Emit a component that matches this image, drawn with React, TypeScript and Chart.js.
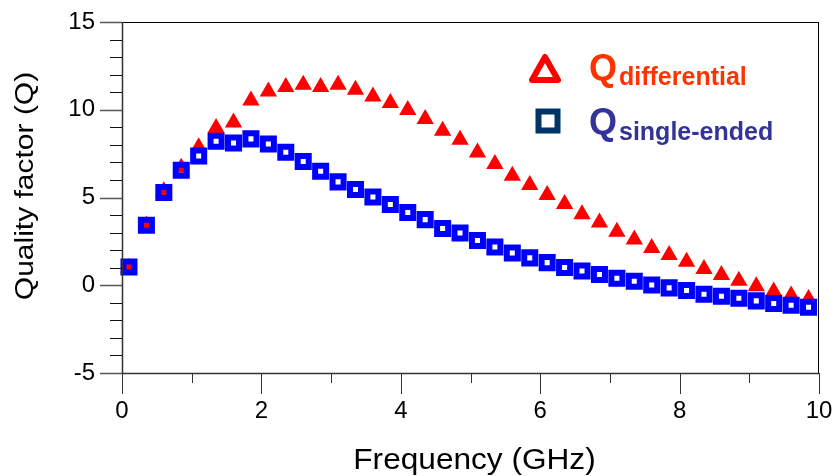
import React, { useEffect, useRef } from 'react';
import { Chart, registerables } from 'chart.js';

Chart.register(...registerables);

// ---- data ----
const frequencyGHz = [
  0.1, 0.35, 0.6, 0.85, 1.1, 1.35, 1.6, 1.85, 2.1, 2.35,
  2.6, 2.85, 3.1, 3.35, 3.6, 3.85, 4.1, 4.35, 4.6, 4.85,
  5.1, 5.35, 5.6, 5.85, 6.1, 6.35, 6.6, 6.85, 7.1, 7.35,
  7.6, 7.85, 8.1, 8.35, 8.6, 8.85, 9.1, 9.35, 9.6, 9.85,
];
const qDifferential = [
  1.0, 3.4, 5.35, 6.7, 7.87, 8.96, 9.28, 10.53, 11.04, 11.29,
  11.42, 11.29, 11.42, 11.14, 10.76, 10.38, 9.98, 9.47, 8.81, 8.29,
  7.57, 6.91, 6.24, 5.71, 5.14, 4.63, 4.05, 3.58, 3.05, 2.6,
  2.12, 1.72, 1.34, 0.92, 0.58, 0.26, -0.06, -0.35, -0.59, -0.79,
];
const qSingleEnded = [
  1.04, 3.42, 5.28, 6.55, 7.37, 8.2, 8.1, 8.34, 8.05, 7.58,
  7.05, 6.5, 5.89, 5.45, 5.03, 4.6, 4.14, 3.74, 3.23, 2.98,
  2.55, 2.18, 1.84, 1.56, 1.29, 1.01, 0.81, 0.61, 0.4, 0.23,
  0.02, -0.15, -0.3, -0.51, -0.63, -0.74, -0.89, -1.04, -1.14, -1.25,
];
const xMajorTicks = [0, 2, 4, 6, 8, 10];
const xMinorTicks = [1, 3, 5, 7, 9];
const yMajorTicks = [-5, 0, 5, 10, 15];
const yMinorTicks = [-4, -3, -2, -1, 1, 2, 3, 4, 6, 7, 8, 9, 11, 12, 13, 14];

const xTitle = 'Frequency (GHz)';
const yTitle = 'Quality factor (Q)';
const legendMain = 'Q';
const legendDiff = 'differential';
const legendSingle = 'single-ended';

const FONT = '"Liberation Sans", Arial, sans-serif';

const decorPlugin = {
  id: 'decor',
  afterDraw(chart: any) {
    const { ctx, chartArea: a, scales } = chart;
    const x = scales.x;
    const y = scales.y;
    ctx.save();
    // frame
    ctx.strokeStyle = '#000';
    ctx.lineWidth = 1;
    ctx.strokeRect(a.left + 0.5, a.top + 0.5, a.right - a.left - 1, a.bottom - a.top);
    // left axis & bottom axis a bit heavier
    ctx.strokeStyle = '#333';
    ctx.lineWidth = 1.5;
    ctx.beginPath();
    ctx.moveTo(a.left + 0.5, a.top);
    ctx.lineTo(a.left + 0.5, a.bottom + 0.5);
    ctx.lineTo(a.right, a.bottom + 0.5);
    ctx.stroke();

    // y ticks
    yMajorTicks.forEach((v) => {
      const py = Math.round(y.getPixelForValue(v)) + 0.5;
      ctx.strokeStyle = '#555';
      ctx.lineWidth = 1.5;
      ctx.beginPath();
      ctx.moveTo(a.left - 22, py);
      ctx.lineTo(a.left, py);
      ctx.stroke();
    });
    yMinorTicks.forEach((v) => {
      const py = Math.round(y.getPixelForValue(v)) + 0.5;
      ctx.strokeStyle = '#111';
      ctx.lineWidth = 1;
      ctx.beginPath();
      ctx.moveTo(a.left - 12, py);
      ctx.lineTo(a.left, py);
      ctx.stroke();
    });
    // x ticks
    xMajorTicks.forEach((v) => {
      const px = Math.round(x.getPixelForValue(v)) + 0.5;
      ctx.strokeStyle = '#333';
      ctx.lineWidth = 1;
      ctx.beginPath();
      ctx.moveTo(px, a.bottom);
      ctx.lineTo(px, a.bottom + 21);
      ctx.stroke();
    });
    xMinorTicks.forEach((v) => {
      const px = Math.round(x.getPixelForValue(v)) + 0.5;
      ctx.strokeStyle = '#333';
      ctx.lineWidth = 1;
      ctx.beginPath();
      ctx.moveTo(px, a.bottom);
      ctx.lineTo(px, a.bottom + 10);
      ctx.stroke();
    });

    // axis titles
    ctx.fillStyle = '#000';
    ctx.font = `29px ${FONT}`;
    ctx.textAlign = 'center';
    ctx.textBaseline = 'alphabetic';
    ctx.save();
    ctx.translate((a.left + a.right) / 2 + 4, 469);
    ctx.scale(1.09, 1);
    ctx.fillText(xTitle, 0, 0);
    ctx.restore();

    ctx.save();
    ctx.font = `25px ${FONT}`;
    ctx.translate(33, 186);
    ctx.rotate(-Math.PI / 2);
    ctx.scale(1.2, 1);
    ctx.fillText(yTitle, 0, 0);
    ctx.restore();

    // legend
    ctx.lineJoin = 'round';
    ctx.strokeStyle = '#FF0000';
    ctx.lineWidth = 6;
    ctx.beginPath();
    ctx.moveTo(545, 57);
    ctx.lineTo(558, 80);
    ctx.lineTo(532, 80);
    ctx.closePath();
    ctx.stroke();

    ctx.strokeStyle = '#003366';
    ctx.lineJoin = 'miter';
    ctx.strokeRect(538.5, 111.5, 19, 19);

    ctx.textAlign = 'left';
    ctx.fillStyle = '#FF3300';
    ctx.font = `bold 36px ${FONT}`;
    ctx.fillText(legendMain, 589, 80);
    ctx.font = `bold 25px ${FONT}`;
    ctx.fillText(legendDiff, 619, 85);

    ctx.fillStyle = '#333399';
    ctx.font = `bold 36px ${FONT}`;
    ctx.fillText(legendMain, 589, 134);
    ctx.font = `bold 25px ${FONT}`;
    ctx.fillText(legendSingle, 619, 140);

    ctx.restore();
  },
};

function zeroPadding(s: any) {
  s.paddingTop = 0;
  s.paddingBottom = 0;
  s.paddingLeft = 0;
  s.paddingRight = 0;
}

export default function App() {
  const canvasRef = useRef<HTMLCanvasElement | null>(null);

  useEffect(() => {
    document.body.style.margin = '0';
    const canvas = canvasRef.current;
    if (!canvas) return;
    const chart = new Chart(canvas, {
      type: 'scatter',
      data: {
        datasets: [
          {
            label: 'Q single-ended',
            data: frequencyGHz.map((f, i) => ({ x: f, y: qSingleEnded[i] })),
            pointStyle: 'rect',
            pointRadius: 7.8,
            pointHoverRadius: 7.8,
            pointBorderWidth: 6,
            pointBorderColor: '#0000FF',
            pointBackgroundColor: 'rgba(0,0,0,0)',
            showLine: false,
            order: 0,
            clip: false,
          },
          {
            label: 'Q differential',
            data: frequencyGHz.map((f, i) => ({ x: f, y: qDifferential[i] })),
            pointStyle: 'triangle',
            pointRadius: 8,
            pointHoverRadius: 8,
            pointBorderWidth: 2,
            pointBorderColor: '#FF0000',
            pointBackgroundColor: '#FF0000',
            showLine: false,
            order: 1,
            clip: false,
          },
        ],
      } as any,
      options: {
        responsive: false,
        animation: false,
        devicePixelRatio: 1,
        layout: { padding: { top: 22, right: 16, left: 0, bottom: 0 } },
        plugins: {
          legend: { display: false },
          tooltip: { enabled: false },
          title: { display: false },
        },
        scales: {
          x: {
            type: 'linear',
            min: 0,
            max: 10,
            grid: { display: false, drawTicks: false },
            border: { display: false },
            ticks: {
              stepSize: 2,
              color: '#000',
              padding: 24,
              font: { size: 24, family: FONT },
              maxRotation: 0,
            },
            afterFit: (s: any) => {
              s.height = 103;
              zeroPadding(s);
            },
          },
          y: {
            type: 'linear',
            min: -5,
            max: 15,
            grid: { display: false, drawTicks: false },
            border: { display: false },
            ticks: {
              stepSize: 5,
              color: '#000',
              padding: 27,
              font: { size: 24, family: FONT },
            },
            afterFit: (s: any) => {
              s.width = 122;
              zeroPadding(s);
            },
          },
        },
      } as any,
      plugins: [decorPlugin],
    });
    return () => chart.destroy();
  }, []);

  return (
    <div style={{ position: 'fixed', left: 0, top: 0, width: 835, height: 476, background: '#fff' }}>
      <canvas ref={canvasRef} width={835} height={476} />
    </div>
  );
}
